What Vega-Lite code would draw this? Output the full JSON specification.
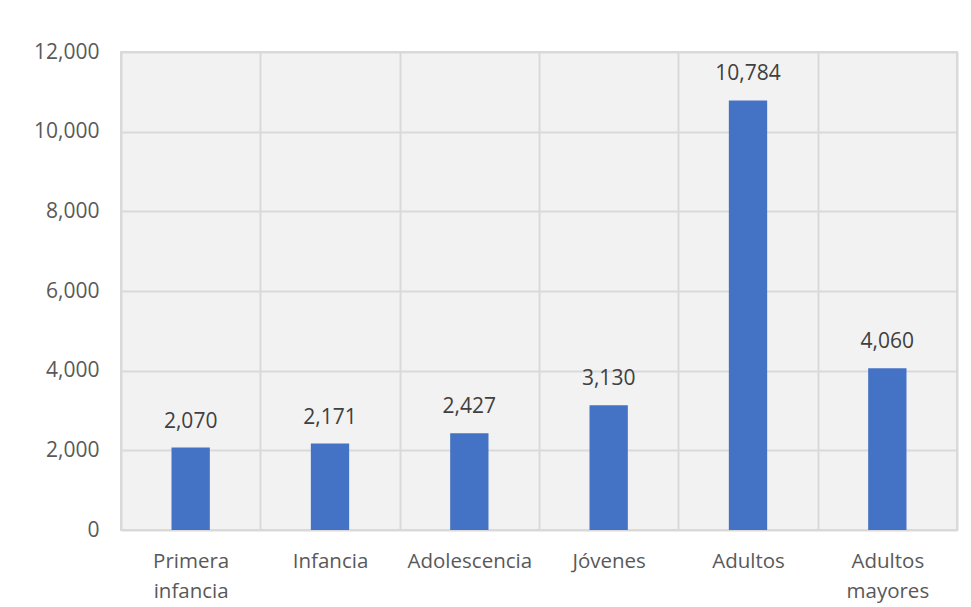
{
  "$schema": "https://vega.github.io/schema/vega-lite/v6.json",
  "autosize": {"type": "none"},
  "padding": {"left": 121, "top": 52, "right": 14, "bottom": 77},
  "width": 836,
  "height": 478,
  "background": "white",
  "config": {
    "view": {"fill": "#f2f2f2", "stroke": "#d9d9d9", "strokeWidth": 2},
    "font": "Open Sans"
  },
  "data": {
    "values": [
      {"grupo": "Primera infancia", "valor": 2070},
      {"grupo": "Infancia", "valor": 2171},
      {"grupo": "Adolescencia", "valor": 2427},
      {"grupo": "Jóvenes", "valor": 3130},
      {"grupo": "Adultos", "valor": 10784},
      {"grupo": "Adultos mayores", "valor": 4060}
    ]
  },
  "encoding": {
    "x": {
      "field": "grupo",
      "type": "nominal",
      "sort": null,
      "scale": {"paddingInner": 0, "paddingOuter": 0},
      "axis": {
        "title": null,
        "labelAngle": 0,
        "labelExpr": "split(datum.label, ' ')",
        "labelFontSize": 20.5,
        "labelColor": "#595959",
        "labelPadding": 21,
        "labelLineHeight": 30,
        "ticks": false,
        "domain": false,
        "tickBand": "extent",
        "grid": true,
        "gridColor": "#d9d9d9",
        "gridWidth": 2
      }
    }
  },
  "layer": [
    {
      "mark": {"type": "bar", "color": "#4472C4", "width": {"band": 0.275}},
      "encoding": {
        "y": {
          "field": "valor",
          "type": "quantitative",
          "scale": {"domain": [0, 12000]},
          "axis": {
            "title": null,
            "values": [0, 2000, 4000, 6000, 8000, 10000, 12000],
            "format": ",d",
            "labelFontSize": 21,
            "labelColor": "#595959",
            "labelPadding": 22,
            "ticks": false,
            "domain": false,
            "gridColor": "#d9d9d9",
            "gridWidth": 2
          }
        }
      }
    },
    {
      "mark": {"type": "text", "baseline": "alphabetic", "dy": -20, "fontSize": 21, "color": "#404040"},
      "encoding": {
        "y": {"field": "valor", "type": "quantitative"},
        "text": {"field": "valor", "type": "quantitative", "format": ",d"}
      }
    }
  ]
}
